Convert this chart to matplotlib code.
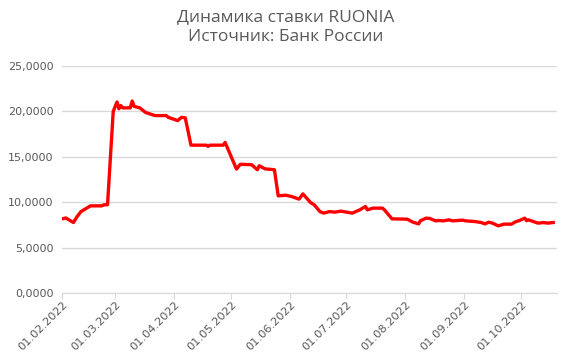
import matplotlib
matplotlib.use("Agg")
import matplotlib.pyplot as plt
import matplotlib.dates as mdates
from matplotlib.ticker import FuncFormatter, MultipleLocator
from matplotlib.transforms import ScaledTranslation
from datetime import datetime

# RUONIA values
dates = [
    "2022-02-01", "2022-02-03", "2022-02-07", "2022-02-09", "2022-02-11",
    "2022-02-16", "2022-02-22", "2022-02-23", "2022-02-25", "2022-02-28",
    "2022-03-02", "2022-03-03", "2022-03-04", "2022-03-05", "2022-03-09",
    "2022-03-10", "2022-03-11", "2022-03-14", "2022-03-17", "2022-03-22",
    "2022-03-28", "2022-03-29", "2022-04-03", "2022-04-05", "2022-04-07",
    "2022-04-10", "2022-04-18", "2022-04-19", "2022-04-20", "2022-04-27",
    "2022-04-28", "2022-05-04", "2022-05-06", "2022-05-12", "2022-05-15",
    "2022-05-16", "2022-05-19", "2022-05-24", "2022-05-26", "2022-05-30",
    "2022-06-02", "2022-06-06", "2022-06-08", "2022-06-12", "2022-06-14",
    "2022-06-17", "2022-06-19", "2022-06-22", "2022-06-25", "2022-06-28",
    "2022-07-04", "2022-07-08", "2022-07-11", "2022-07-12", "2022-07-15",
    "2022-07-20", "2022-07-21", "2022-07-25", "2022-08-02", "2022-08-05",
    "2022-08-08", "2022-08-09", "2022-08-12", "2022-08-14", "2022-08-17",
    "2022-08-19", "2022-08-21", "2022-08-24", "2022-08-26", "2022-08-31",
    "2022-09-02", "2022-09-07", "2022-09-10", "2022-09-12", "2022-09-14",
    "2022-09-16", "2022-09-19", "2022-09-22", "2022-09-26", "2022-09-28",
    "2022-09-30", "2022-10-03", "2022-10-04", "2022-10-05", "2022-10-10",
    "2022-10-13", "2022-10-15", "2022-10-18",
]
ruonia = [
    8.20, 8.30, 7.80, 8.46, 9.00,
    9.63, 9.63, 9.74, 9.75, 20.00,
    21.05, 20.30, 20.65, 20.40, 20.40,
    21.15, 20.57, 20.40, 19.90, 19.55,
    19.55, 19.36, 19.00, 19.36, 19.30,
    16.30, 16.30, 16.17, 16.30, 16.30,
    16.60, 13.67, 14.20, 14.15, 13.60,
    14.04, 13.70, 13.60, 10.73, 10.80,
    10.66, 10.37, 10.95, 10.00, 9.74,
    9.00, 8.83, 9.00, 8.94, 9.05,
    8.83, 9.19, 9.56, 9.19, 9.38,
    9.38, 9.19, 8.20, 8.17, 7.84,
    7.65, 8.00, 8.28, 8.24, 7.98,
    8.02, 7.98, 8.09, 7.98, 8.06,
    7.98, 7.90, 7.80, 7.65, 7.84,
    7.73, 7.43, 7.62, 7.62, 7.87,
    8.00, 8.28, 8.00, 8.09, 7.73,
    7.80, 7.73, 7.80,
]

title = "Динамика ставки RUONIA\nИсточник: Банк России"

x = [datetime.strptime(d, "%Y-%m-%d") for d in dates]
grey = "#595959"

fig = plt.figure(figsize=(5.72, 3.56), dpi=100)
ax = fig.add_axes([0.1084, 0.1756, 0.8654, 0.639])

ax.plot(x, ruonia, color="#FF0000", linewidth=2.4, solid_joinstyle="round")

ax.set_xlim(datetime(2022, 2, 1), datetime(2022, 10, 20))
ax.set_ylim(0, 25)
ax.yaxis.set_major_locator(MultipleLocator(5))
ax.yaxis.set_major_formatter(FuncFormatter(lambda v, p: f"{v:.4f}".replace(".", ",")))
ax.xaxis.set_major_locator(mdates.MonthLocator())
ax.xaxis.set_major_formatter(mdates.DateFormatter("%d.%m.%Y"))

ax.grid(axis="y", color="#D9D9D9", linewidth=1)
ax.set_axisbelow(True)
for s in ["top", "right", "left"]:
    ax.spines[s].set_visible(False)
ax.spines["bottom"].set_color("#D9D9D9")
ax.tick_params(axis="y", length=0, pad=6, labelsize=8, labelcolor=grey)
ax.tick_params(axis="x", length=4, color="#D9D9D9", pad=3, labelsize=8.2, labelcolor=grey)
shift = ScaledTranslation(4 / 100, 0, fig.dpi_scale_trans)
for lbl in ax.get_xticklabels():
    lbl.set_rotation(45)
    lbl.set_ha("right")
    lbl.set_va("center")
    lbl.set_rotation_mode("anchor")
    lbl.set_transform(lbl.get_transform() + shift)

fig.text(0.5, 0.975, title, ha="center", va="top", fontsize=12.5, color=grey,
         linespacing=1.35, family=["Open Sans", "DejaVu Sans"])

fig.savefig("out.png", dpi=100)
